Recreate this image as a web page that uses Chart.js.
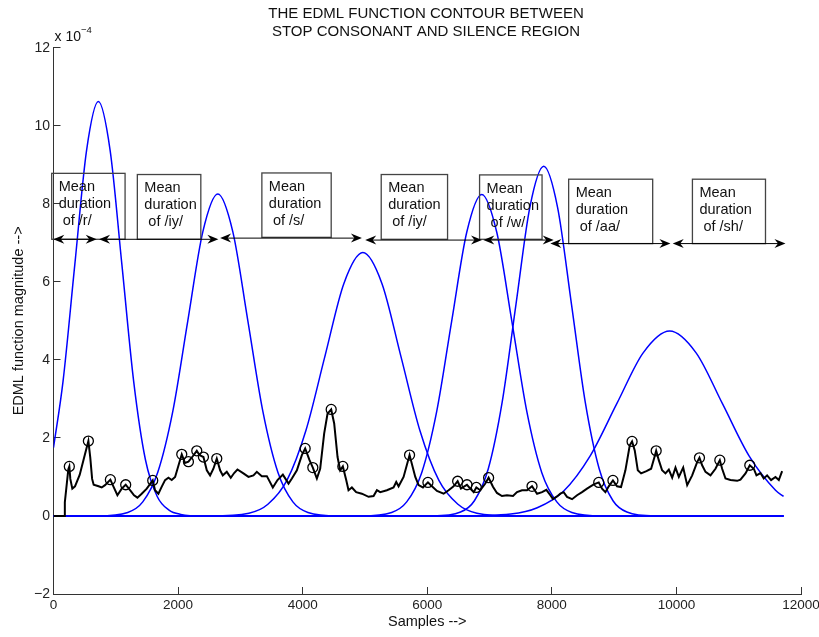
<!DOCTYPE html>
<html>
<head>
<meta charset="utf-8">
<title>EDML function contour</title>
<script src="https://cdn.jsdelivr.net/npm/chart.js@4.4.1/dist/chart.umd.min.js"></script>
<style>
  html, body { margin: 0; padding: 0; background: #fff; }
  #wrap { width: 819px; height: 637px; }
</style>
</head>
<body>
<div id="wrap"><canvas id="edmlChart" width="819" height="637"></canvas></div>
<script>
// EDML function contour (units of 1e-4) against sample index
const edmlSamples = [
    0, 169, 182, 238, 254, 270, 302, 345, 420, 500,
    560, 590, 620, 645, 724, 774, 827, 913, 961, 1026,
    1095, 1159, 1229, 1293, 1347, 1416, 1497, 1593, 1630, 1684,
    1738, 1791, 1845, 1898, 1952, 2059, 2110, 2166, 2236, 2300,
    2342, 2407, 2461, 2514, 2567, 2621, 2675, 2718, 2782, 2846,
    2900, 2953, 3049, 3130, 3210, 3264, 3344, 3425, 3521, 3596,
    3682, 3773, 3827, 3907, 3987, 4040, 4110, 4163, 4228, 4281,
    4345, 4399, 4458, 4506, 4560, 4602, 4645, 4699, 4736, 4790,
    4859, 4950, 5058, 5138, 5192, 5245, 5352, 5459, 5502, 5540,
    5620, 5716, 5808, 5861, 5931, 6011, 6075, 6156, 6263, 6343,
    6423, 6488, 6541, 6590, 6638, 6691, 6745, 6788, 6852, 6932,
    6985, 7055, 7119, 7199, 7280, 7377, 7441, 7521, 7602, 7682,
    7763, 7843, 7912, 7976, 8019, 8083, 8137, 8190, 8244, 8325,
    8405, 8485, 8565, 8673, 8753, 8806, 8860, 8914, 8981, 9047,
    9111, 9181, 9251, 9288, 9331, 9380, 9433, 9519, 9594, 9648,
    9675, 9717, 9770, 9824, 9878, 9932, 9985, 10039, 10109, 10173,
    10253, 10333, 10370, 10413, 10467, 10547, 10627, 10697, 10734, 10788,
    10868, 10975, 11028, 11109, 11178, 11242, 11285, 11349, 11402, 11456,
    11520, 11590, 11644, 11697
];
const edmlValues = [
    0, 0, 0.35, 1.2, 1.27, 0.95, 0.70, 0.76, 1.05, 1.55,
    1.92, 1.50, 0.95, 0.80, 0.76, 0.73, 0.79, 0.93, 0.76, 0.53,
    0.70, 0.80, 0.66, 0.53, 0.47, 0.57, 0.70, 0.91, 0.66, 0.57,
    0.75, 0.92, 0.98, 0.92, 1.00, 1.58, 1.36, 1.39, 1.53, 1.67,
    1.56, 1.51, 1.17, 1.04, 1.21, 1.47, 1.17, 1.04, 1.13, 0.98,
    1.10, 1.19, 1.09, 1.00, 1.04, 1.13, 1.02, 1.02, 0.73, 0.92,
    1.06, 0.83, 0.96, 1.17, 1.56, 1.73, 1.43, 1.24, 0.96, 1.21,
    2.11, 2.62, 2.73, 2.37, 1.51, 1.17, 1.27, 0.92, 0.66, 0.73,
    0.61, 0.57, 0.49, 0.51, 0.66, 0.61, 0.66, 0.73, 0.87, 0.76,
    1.00, 1.56, 1.00, 0.79, 0.73, 0.86, 0.76, 0.64, 0.57, 0.66,
    0.76, 0.89, 0.70, 0.75, 0.80, 0.70, 0.61, 0.73, 0.66, 0.83,
    0.98, 0.75, 0.59, 0.51, 0.53, 0.51, 0.61, 0.66, 0.66, 0.76,
    0.57, 0.61, 0.67, 0.53, 0.43, 0.50, 0.57, 0.61, 0.49, 0.43,
    0.53, 0.61, 0.70, 0.81, 0.86, 0.70, 0.61, 0.76, 0.91, 0.76,
    0.74, 1.17, 1.81, 1.91, 1.68, 1.17, 1.09, 1.15, 1.21, 1.51,
    1.67, 1.43, 1.17, 1.09, 1.19, 0.98, 1.24, 1.00, 1.24, 0.79,
    1.04, 1.38, 1.49, 1.30, 1.13, 1.04, 1.21, 1.43, 1.21, 0.96,
    0.92, 0.90, 0.93, 1.09, 1.30, 1.21, 1.04, 1.10, 0.96, 1.04,
    0.92, 1.00, 0.92, 1.15
];

// picked peaks (circled on the contour)
const peakSamples = [254, 560, 913, 1159, 1593, 2059, 2166, 2300, 2407, 2621, 4040, 4163, 4458, 4645,
                     5716, 6011, 6488, 6638, 6788, 6985, 7682, 8753, 8981, 9288, 9675, 10370, 10697, 11178];
const peakValues = [1.27, 1.92, 0.93, 0.80, 0.91, 1.58, 1.39, 1.67, 1.51, 1.47, 1.73, 1.24, 2.73, 1.27,
                    1.56, 0.86, 0.89, 0.80, 0.73, 0.98, 0.76, 0.86, 0.91, 1.91, 1.67, 1.49, 1.43, 1.30];

// mean-duration windows (blue bells)
const bell1Samples = [0, 153, 342, 531, 720, 909, 1098, 1287, 1476, 1665, 1854, 2043, 2400, 11720];
const bell1Values = [1.75, 3.45, 6.44, 9.37, 10.62, 9.37, 6.44, 3.45, 1.44, 0.50, 0.15, 0.04, 0, 0];
const bell2Samples = [0, 710, 1192, 1433, 1674, 1915, 2156, 2397, 2638, 2879, 3120, 3361, 3602, 3843, 4084, 4566, 11720];
const bell2Values = [0, 0, 0.09, 0.36, 1.12, 2.68, 5.00, 7.28, 8.25, 7.28, 5.00, 2.68, 1.12, 0.36, 0.09, 0, 0];
const bell3Samples = [0, 2527, 3137, 3442, 3747, 4052, 4357, 4662, 4967, 5272, 5577, 5882, 6187, 6492, 6797, 7407, 11720];
const bell3Values = [0, 0, 0.07, 0.30, 0.91, 2.19, 4.09, 5.96, 6.75, 5.96, 4.09, 2.19, 0.91, 0.30, 0.07, 0, 0];
const bell4Samples = [0, 4947, 5429, 5670, 5911, 6152, 6393, 6634, 6875, 7116, 7357, 7598, 7839, 8080, 8321, 8803, 11720];
const bell4Values = [0, 0, 0.09, 0.36, 1.11, 2.68, 5.00, 7.27, 8.24, 7.27, 5.00, 2.68, 1.11, 0.36, 0.09, 0, 0];
const bell5Samples = [0, 6090, 6535, 6757, 6980, 7202, 7425, 7647, 7870, 8092, 8315, 8537, 8760, 8982, 9205, 9650, 11720];
const bell5Values = [0, 0, 0.10, 0.39, 1.21, 2.91, 5.43, 7.91, 8.96, 7.91, 5.43, 2.91, 1.21, 0.39, 0.10, 0, 0];
const bell6Samples = [0, 6491, 7341, 7766, 8191, 8616, 9041, 9466, 9891, 10316, 10741, 11166, 11591, 11720];
const bell6Values = [0, 0, 0.05, 0.21, 0.64, 1.54, 2.87, 4.18, 4.74, 4.18, 2.87, 1.54, 0.66, 0.50];

const phoneLabels = ['/r/', '/iy/', '/s/', '/iy/', '/w/', '/aa/', '/sh/'];

// label boxes in axis units: [fromSample, toSample, top, bottom]
const boxSpans = [
    [-29, 1149, 8.78, 7.09], [1346, 2365, 8.75, 7.09], [3345, 4458, 8.79, 7.14],
    [5261, 6326, 8.75, 7.09], [6840, 7843, 8.74, 7.09], [8270, 9619, 8.63, 6.98],
    [10257, 11430, 8.63, 6.98]
];
// double-headed duration arrows: [fromSample, toSample, level]
const arrowSpans = [
    [-3, 694, 7.09], [731, 2647, 7.09], [2675, 4951, 7.12], [5004, 6879, 7.07],
    [6900, 8030, 7.07], [7976, 9904, 6.98], [9941, 11751, 6.98]
];

const FONT = "'Liberation Sans', Arial, Helvetica, sans-serif";
Chart.defaults.font.family = FONT;

const toPoints = (xs, ys) => xs.map((s, i) => ({ x: s, y: ys[i] }));

function arrowHead(ctx, x, y, dir) {
    ctx.beginPath();
    ctx.moveTo(x, y);
    ctx.lineTo(x - dir * 11, y - 4.5);
    ctx.lineTo(x - dir * 7.5, y);
    ctx.lineTo(x - dir * 11, y + 4.5);
    ctx.closePath();
    ctx.fill();
}

// title, exponent note, phone boxes and arrows
const phoneNotes = {
    id: 'phoneNotes',
    afterDraw(chart) {
        const { ctx, scales: { x, y } } = chart;
        ctx.save();
        ctx.fillStyle = '#111';
        ctx.textBaseline = 'middle';

        ctx.textAlign = 'center';
        ctx.font = '15px ' + FONT;
        ctx.fillText('THE EDML FUNCTION CONTOUR BETWEEN', 426, 14);
        ctx.fillText('STOP CONSONANT AND SILENCE REGION', 426, 31.7);

        ctx.textAlign = 'left';
        ctx.font = '14px ' + FONT;
        ctx.fillText('x 10', 54.5, 37.5);
        ctx.font = '9.5px ' + FONT;
        ctx.fillText('\u22124', 81, 30);

        ctx.font = '14.5px ' + FONT;
        boxSpans.forEach((b, i) => {
            const x0 = x.getPixelForValue(b[0]), x1 = x.getPixelForValue(b[1]);
            const y0 = y.getPixelForValue(b[2]), y1 = y.getPixelForValue(b[3]);
            ctx.strokeStyle = '#444'; ctx.lineWidth = 1.3;
            ctx.strokeRect(x0, y0, x1 - x0, y1 - y0);
            ctx.fillStyle = '#111';
            ['Mean', 'duration', ' of ' + phoneLabels[i]].forEach((t, k) => ctx.fillText(t, x0 + 7, y0 + 13.8 + k * 17));
        });

        ctx.strokeStyle = '#000'; ctx.fillStyle = '#000'; ctx.lineWidth = 1;
        arrowSpans.forEach(a => {
            const x0 = x.getPixelForValue(a[0]), x1 = x.getPixelForValue(a[1]), yy = y.getPixelForValue(a[2]);
            ctx.beginPath(); ctx.moveTo(x0 + 4, yy); ctx.lineTo(x1 - 4, yy); ctx.stroke();
            arrowHead(ctx, x0, yy, -1);
            arrowHead(ctx, x1, yy, 1);
        });
        ctx.restore();
    }
};

const bells = [
    [bell1Samples, bell1Values], [bell2Samples, bell2Values], [bell3Samples, bell3Values],
    [bell4Samples, bell4Values], [bell5Samples, bell5Values], [bell6Samples, bell6Values]
];

new Chart(document.getElementById('edmlChart'), {
    type: 'line',
    data: {
        datasets: [
            { label: 'peaks', data: toPoints(peakSamples, peakValues), showLine: false, pointRadius: 5,
              pointBorderWidth: 1.3, pointBorderColor: '#000', pointBackgroundColor: 'rgba(0,0,0,0)', order: 0 },
            { label: 'EDML', data: toPoints(edmlSamples, edmlValues), borderColor: '#000', borderWidth: 2,
              pointRadius: 0, tension: 0, order: 1 }
        ].concat(bells.map((b, i) => ({
            label: 'window ' + (i + 1), data: toPoints(b[0], b[1]), borderColor: '#0000ff', borderWidth: 1.5,
            pointRadius: 0, cubicInterpolationMode: 'monotone', order: 2
        })))
    },
    options: {
        responsive: false, animation: false, events: [],
        layout: { padding: { left: 0, top: 47.7, right: 18, bottom: 0 } },
        plugins: { legend: { display: false }, tooltip: { enabled: false }, title: { display: false } },
        scales: {
            x: {
                type: 'linear', min: 0, max: 12000,
                ticks: { stepSize: 2000, padding: 10.6, color: '#222', font: { size: 13.5 }, maxRotation: 0, callback: v => String(v) },
                grid: { drawOnChartArea: false, tickLength: -7, color: '#333' },
                border: { color: '#333', width: 1 },
                title: { display: true, text: 'Samples -->', color: '#111', font: { size: 14.5 }, padding: { top: 0, bottom: 6.3 } },
                afterFit(s) { s.height = 43; s.paddingLeft = 0; s.paddingRight = 0; }
            },
            y: {
                min: -2, max: 12,
                ticks: { stepSize: 2, padding: 10.5, color: '#222', font: { size: 14 }, callback: v => v < 0 ? '\u2212' + Math.abs(v) : String(v) },
                grid: { drawOnChartArea: false, tickLength: -7, color: '#333' },
                border: { color: '#333', width: 1 },
                title: { display: true, text: 'EDML function magnitude -->', color: '#111', font: { size: 14.5 }, padding: { top: 10.3, bottom: 0 } },
                afterFit(s) { s.width = 53.5; s.paddingTop = 0; s.paddingBottom = 0; }
            }
        }
    },
    plugins: [phoneNotes]
});
</script>
</body>
</html>
